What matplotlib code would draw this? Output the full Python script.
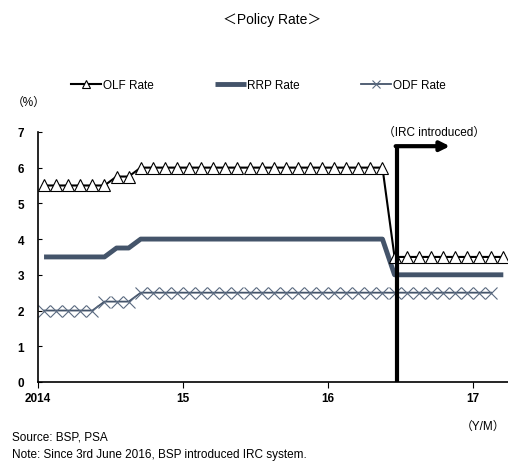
import matplotlib
matplotlib.use('Agg')
import matplotlib.pyplot as plt
import numpy as np

plt.rcParams['font.family'] = ['Liberation Sans', 'Noto Sans CJK JP', 'DejaVu Sans']

# monthly data, Jan 2014 onward
olf = [5.5] * 6 + [5.75] * 2 + [6.0] * 21 + [3.5] * 10
rrp = [3.5] * 6 + [3.75] * 2 + [4.0] * 21 + [3.0] * 10
odf = [2.0] * 5 + [2.25] * 3 + [2.5] * 30

start_year = 2014
x_ticks = [2014, 2015, 2016, 2017]
x_labels = ['2014', '15', '16', '17']
irc_x = 2016.474   # IRC introduced (June 2016)
irc_top = 6.6
arrow_end = 2016.84


def month_x(n):
    return start_year + (np.arange(n) + 0.5) / 12.0


fig = plt.figure(figsize=(5.08, 4.64), dpi=100)
ax = fig.add_axes([0.0748, 0.1746, 0.925, 0.539])

slate = '#44546A'
ax.plot(month_x(len(rrp)), rrp, color=slate, lw=3.5, label='RRP Rate', zorder=2,
        solid_capstyle='butt')
ax.plot(month_x(len(odf)), odf, color=slate, lw=1.3, marker='x', markersize=8.5,
        markeredgewidth=0.8, markeredgecolor='#5a6a80', label='ODF Rate', zorder=2)
ax.plot(month_x(len(olf)), olf, color='black', lw=1.5, marker='^', markersize=8.5,
        markerfacecolor='white', markeredgecolor='black', markeredgewidth=0.8,
        label='OLF Rate', zorder=3)

# IRC marker line and arrow
ax.plot([irc_x, irc_x], [0, irc_top], color='black', lw=3, zorder=4, solid_capstyle='butt')
ax.annotate('', xy=(arrow_end, irc_top), xytext=(irc_x - 0.008, irc_top),
            arrowprops=dict(arrowstyle='-|>', lw=3, color='black', mutation_scale=14,
                            shrinkA=0, shrinkB=0), zorder=4)
ax.text(2016.73, 7.0, '（IRC introduced）', ha='center', va='center', fontsize=8.5)

ax.set_xlim(2014, 2017.24)
ax.set_ylim(0, 7)
ax.set_xticks(x_ticks)
ax.set_xticklabels(x_labels)
ax.set_yticks(range(0, 8))
ax.spines['top'].set_visible(False)
ax.spines['right'].set_visible(False)
ax.spines['left'].set_linewidth(1.2)
ax.spines['bottom'].set_linewidth(1.2)
ax.tick_params(axis='y', direction='in', length=3, labelsize=8.5, pad=10)
ax.tick_params(axis='x', direction='out', length=4, labelsize=8.5, pad=3)
for lbl in ax.get_xticklabels():
    lbl.set_fontweight('bold')
for lbl in ax.get_yticklabels():
    lbl.set_fontweight('bold')

handles, labels = ax.get_legend_handles_labels()
order = [2, 0, 1]
fig.legend([handles[i] for i in order], [labels[i] for i in order],
           loc='center', bbox_to_anchor=(0.508, 0.815), ncol=3, frameon=False,
           fontsize=8.5, handlelength=2.6, handletextpad=0.1, columnspacing=5.2,
           markerscale=0.6)

fig.text(0.535, 0.957, '＜Policy Rate＞', ha='center', va='center', fontsize=10)
fig.text(0.024, 0.778, '（%）', ha='left', va='center', fontsize=8.5)
fig.text(0.995, 0.08, '（Y/M）', ha='right', va='center', fontsize=8.5)
fig.text(0.024, 0.058, 'Source: BSP, PSA', ha='left', va='center', fontsize=8.5)
fig.text(0.024, 0.019, 'Note: Since 3rd June 2016, BSP introduced IRC system.',
         ha='left', va='center', fontsize=8.5)

fig.savefig('out.png', dpi=100)
